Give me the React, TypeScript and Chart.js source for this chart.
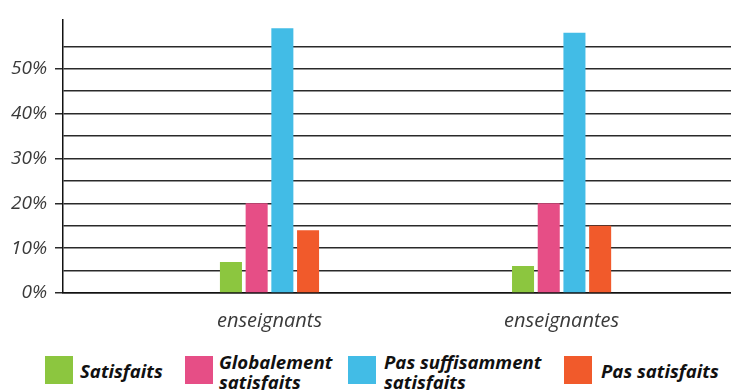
import React, { useEffect, useRef } from 'react';
import { Chart, registerables } from 'chart.js';

Chart.register(...registerables);

const categories = ['enseignants', 'enseignantes'];
const seriesNames = ['Satisfaits', 'Globalement\nsatisfaits', 'Pas suffisamment\nsatisfaits', 'Pas satisfaits'];
const satisfaits = [6.9, 6];
const globalementSatisfaits = [20, 20];
const pasSuffisammentSatisfaits = [59, 58];
const pasSatisfaits = [14, 15];
const seriesValues = [satisfaits, globalementSatisfaits, pasSuffisammentSatisfaits, pasSatisfaits];
const seriesColors = ['#8CC63F', '#E64E86', '#42BCE6', '#F15A2B'];
const yTickValues = [0, 5, 10, 15, 20, 25, 30, 35, 40, 45, 50, 55];

const legendPos = [
  { box: 45, text: 80 },
  { box: 185, text: 219 },
  { box: 348, text: 384 },
  { box: 564, text: 601 },
];

export default function App() {
  const canvasRef = useRef<HTMLCanvasElement | null>(null);

  useEffect(() => {
    if (!canvasRef.current) return;
    const chart = new Chart(canvasRef.current, {
      type: 'bar',
      data: {
        datasets: seriesValues.map((vals, si) => ({
          label: seriesNames[si],
          data: vals.map((v, i) => ({ x: i + 1, y: v })),
          backgroundColor: seriesColors[si],
          borderWidth: 0,
          categoryPercentage: 0.352,
          barPercentage: 0.857,
        })),
      },
      options: {
        responsive: true,
        maintainAspectRatio: false,
        animation: false,
        layout: { padding: { top: 12, left: 0, right: 0, bottom: 0 } },
        plugins: { legend: { display: false }, tooltip: { enabled: false } },
        scales: {
          x: {
            type: 'linear',
            offset: false,
            min: 0.293,
            max: 2.58,
            bounds: 'data',
            grid: { display: false, drawTicks: false, offset: false },
            border: { display: true, color: '#111', width: 1.5 },
            afterBuildTicks: (scale: any) => {
              scale.ticks = categories.map((_, i) => ({ value: i + 1 }));
            },
            afterFit: (scale: any) => {
              scale.height = 47;
            },
            ticks: {
              padding: 16,
              color: '#3a3a3a',
              font: { family: 'Open Sans', size: 20, style: 'italic' },
              callback: (v: any) => categories[Math.round(Number(v)) - 1] ?? '',
              maxRotation: 0,
              autoSkip: false,
            },
          },
          y: {
            type: 'linear',
            min: 0,
            max: 61,
            afterBuildTicks: (scale: any) => {
              scale.ticks = yTickValues.map((v) => ({ value: v }));
            },
            afterFit: (scale: any) => {
              scale.width = 63;
            },
            grid: {
              color: '#2a2a2a',
              lineWidth: 1.5,
              tickLength: 8,
              tickColor: (ctx: any) => (ctx.tick && ctx.tick.value % 10 === 0 ? '#2a2a2a' : 'rgba(0,0,0,0)'),
            },
            border: { display: true, color: '#111', width: 1.5 },
            ticks: {
              padding: 8,
              color: '#3a3a3a',
              font: { family: 'Open Sans', size: 19, style: 'italic' },
              callback: (v: any) => (Number(v) % 10 === 0 ? `${v}%` : ''),
              autoSkip: false,
            },
          },
        },
      },
    } as any);
    return () => chart.destroy();
  }, []);

  return (
    <div style={{ position: 'absolute', left: 0, top: 0, width: 731, height: 390, background: '#fff', fontFamily: 'Open Sans' }}>
      <div style={{ position: 'absolute', left: 0, top: 0, width: 731, height: 340 }}>
        <canvas ref={canvasRef} />
      </div>
      {seriesNames.map((name, i) => {
        const lines = name.split('\n');
        return (
          <React.Fragment key={name}>
            <div
              style={{
                position: 'absolute',
                left: legendPos[i].box,
                top: 356,
                width: 28,
                height: 28,
                background: seriesColors[i],
              }}
            />
            <div
              style={{
                position: 'absolute',
                left: legendPos[i].text,
                top: 371,
                transform: 'translateY(-50%)',
                fontFamily: 'Open Sans',
                fontWeight: 'bold',
                fontStyle: 'italic',
                fontSize: 18.6,
                lineHeight: '19.5px',
                color: '#111',
                whiteSpace: 'nowrap',
              }}
            >
              {lines.map((l) => (
                <div key={l}>{l}</div>
              ))}
            </div>
          </React.Fragment>
        );
      })}
    </div>
  );
}
